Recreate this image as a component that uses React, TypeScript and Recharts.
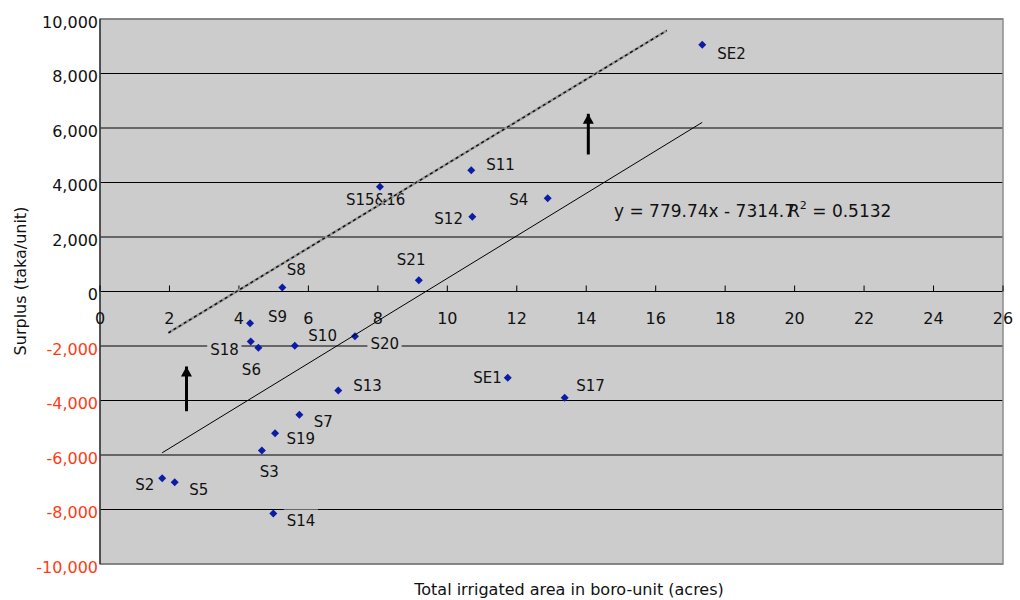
import { CartesianGrid, ReferenceArea, Scatter, ScatterChart, XAxis, YAxis } from 'recharts';

// sites, irrigated area (acres) and surplus (taka/unit)
const sites = ['SE2', 'S11', 'S15&16', 'S4', 'S12', 'S21', 'S8', 'S9', 'S18', 'S6', 'S10', 'S20', 'S13', 'SE1', 'S17', 'S7', 'S19', 'S3', 'S2', 'S5', 'S14'];
const area = [17.34, 10.69, 8.06, 12.89, 10.72, 9.18, 5.25, 4.32, 4.34, 4.56, 5.61, 7.34, 6.86, 11.74, 13.38, 5.74, 5.04, 4.66, 1.79, 2.15, 4.99];
const surplus = [9053, 4451, 3840, 3424, 2741, 415, 147, -1163, -1835, -2066, -1993, -1640, -3633, -3167, -3901, -4525, -5199, -5835, -6851, -6998, -8147];

const xTicks = [0, 2, 4, 6, 8, 10, 12, 14, 16, 18, 20, 22, 24, 26];
const yTicks = [-10000, -8000, -6000, -4000, -2000, 0, 2000, 4000, 6000, 8000, 10000];

// linear trend (ends as drawn) and the shifted dashed line
const trendX = [1.79, 17.34];
const trendY = [-5919, 6206];
const shiftedX = [1.97, 16.32];
const shiftedY = [-1516, 9578];

// upward arrows
const arrowX = [2.49, 14.06];
const arrowFrom = [-4393, 5028];
const arrowTo = [-2752, 6521];

const equationText = 'y = 779.74x - 7314.7';
const rSquaredText = '0.5132';

// label placement, px from the marker: [left of text, middle of text]
const labelOffsets: Record<string, [number, number]> = {
  SE2: [15, 9],
  S11: [15, -5.5],
  'S15&16': [-34, 13],
  S4: [-38.5, 1.5],
  S12: [-38, 2],
  S21: [-22, -20.5],
  S8: [4.5, -18],
  S9: [18, -6.5],
  S18: [-40.5, 8],
  S6: [-16.5, 22],
  S10: [13.5, -10],
  S20: [15.5, 7.5],
  S13: [15, -5],
  SE1: [-34.5, 0],
  S17: [11.5, -12.5],
  S7: [14.5, 6.5],
  S19: [11.5, 5.5],
  S3: [-2, 21],
  S2: [-27, 6.5],
  S5: [14.5, 7.5],
  S14: [13.5, 7],
};

const FONT = '"DejaVu Sans", Verdana, sans-serif';
const PLOT_BG = '#cccccc';

const points = sites.map((name, i) => ({ name, x: area[i], y: surplus[i] }));
const trendData = trendX.map((x, i) => ({ x, y: trendY[i] }));
const shiftedData = shiftedX.map((x, i) => ({ x, y: shiftedY[i] }));
const arrowData = arrowX.map((x, i) => [
  { x, y: arrowFrom[i], head: false },
  { x, y: arrowTo[i], head: true },
]);
const xTickData = xTicks.map((x) => ({ x, y: 0 }));
const equationData = [{ x: 14.8, y: 2947 }];
const rSquaredData = [{ x: 19.81, y: 2947 }];

const Nothing = () => <g />;

const Diamond = (props: any) => {
  const { cx, cy } = props;
  return (
    <polygon
      points={`${cx},${cy - 4} ${cx + 4},${cy} ${cx},${cy + 4} ${cx - 4},${cy}`}
      fill="#0b1ca6"
    />
  );
};

const SiteLabel = (props: any) => {
  const { cx, cy, payload } = props;
  const [dx, dy] = labelOffsets[payload.name] ?? [10, 0];
  const w = payload.name.length * 9.4;
  return (
    <g>
      <rect x={cx + dx - 3} y={cy + dy - 11} width={w + 6} height={19} fill={PLOT_BG} />
      <text x={cx + dx} y={cy + dy + 5.5} fontSize={15} fontFamily={FONT} fill="#111">
        {payload.name}
      </text>
    </g>
  );
};

const ArrowHead = (props: any) => {
  const { cx, cy, payload } = props;
  if (!payload.head) return <g />;
  return (
    <polygon
      points={`${cx},${cy} ${cx - 5.5},${cy + 10} ${cx + 5.5},${cy + 10}`}
      fill="#000"
    />
  );
};

const XTick = (props: any) => {
  const { cx, cy, payload } = props;
  return (
    <g>
      <line x1={cx} y1={cy} x2={cx} y2={cy - 6} stroke="#000" />
      <text x={cx} y={cy + 32} textAnchor="middle" fontSize={16} fontFamily={FONT} fill="#111">
        {payload.x}
      </text>
    </g>
  );
};

const EquationText = (props: any) => {
  const { cx, cy } = props;
  return (
    <text x={cx} y={cy + 6} fontSize={17} fontFamily={FONT} fill="#111">
      {equationText}
    </text>
  );
};

const RSquaredText = (props: any) => {
  const { cx, cy } = props;
  return (
    <text x={cx} y={cy + 6} fontSize={17} fontFamily={FONT} fill="#111">
      R
      <tspan fontSize={11} dy={-8}>2</tspan>
      <tspan dy={8}>{` = ${rSquaredText}`}</tspan>
    </text>
  );
};

const YTick = (props: any) => {
  const { x, y, payload } = props;
  const v = payload.value as number;
  return (
    <text
      x={x}
      y={y + 8.5}
      textAnchor="end"
      fontSize={16}
      fontFamily={FONT}
      fill={v < 0 ? '#ff3b14' : '#111'}
    >
      {v.toLocaleString('en-US')}
    </text>
  );
};

export default function App() {
  return (
    <div style={{ position: 'relative', width: 1020, height: 600, background: '#fff' }}>
      <style>{'body { margin: 0; }'}</style>
      <ScatterChart width={1020} height={600} margin={{ top: 19, right: 17, bottom: 36, left: 0 }}>
        <CartesianGrid fill={PLOT_BG} vertical={false} stroke="#000" strokeOpacity={1} />
        <XAxis type="number" dataKey="x" domain={[0, 26]} ticks={xTicks} hide />
        <YAxis
          type="number"
          dataKey="y"
          domain={[-10000, 10000]}
          ticks={yTicks}
          interval={0}
          width={100}
          tickSize={0}
          tickMargin={2}
          tickLine={false}
          axisLine={{ stroke: '#000' }}
          tick={<YTick />}
        />
        <ReferenceArea
          x1={0}
          x2={26}
          y1={-10000}
          y2={10000}
          fill="none"
          stroke="#8c8c8c"
          strokeWidth={1.5}
          fillOpacity={0}
          ifOverflow="visible"
        />
        <Scatter data={xTickData} shape={<XTick />} isAnimationActive={false} />
        <Scatter data={points} shape={<SiteLabel />} isAnimationActive={false} />
        <Scatter data={points} shape={<Diamond />} isAnimationActive={false} />
        <Scatter
          data={trendData}
          line={{ stroke: '#000', strokeWidth: 1 }}
          shape={<Nothing />}
          isAnimationActive={false}
        />
        <Scatter
          data={shiftedData}
          line={{ stroke: '#9a9a9a', strokeWidth: 2.5 }}
          shape={<Nothing />}
          isAnimationActive={false}
        />
        <Scatter
          data={shiftedData}
          line={{ stroke: '#111', strokeWidth: 1.5, strokeDasharray: '3 3' }}
          shape={<Nothing />}
          isAnimationActive={false}
        />
        {arrowData.map((d, i) => (
          <Scatter
            key={i}
            data={d}
            line={{ stroke: '#000', strokeWidth: 3 }}
            shape={<ArrowHead />}
            isAnimationActive={false}
          />
        ))}
        <Scatter data={equationData} shape={<EquationText />} isAnimationActive={false} />
        <Scatter data={rSquaredData} shape={<RSquaredText />} isAnimationActive={false} />
      </ScatterChart>
      <svg
        width={1020}
        height={600}
        style={{ position: 'absolute', left: 0, top: 0, pointerEvents: 'none' }}
      >
        <text
          transform="translate(20, 281) rotate(-90)"
          textAnchor="middle"
          dominantBaseline="central"
          fontSize={16}
          fontFamily={FONT}
          fill="#111"
        >
          Surplus (taka/unit)
        </text>
        <text x={569} y={595} textAnchor="middle" fontSize={16} fontFamily={FONT} fill="#111">
          Total irrigated area in boro-unit (acres)
        </text>
      </svg>
    </div>
  );
}
